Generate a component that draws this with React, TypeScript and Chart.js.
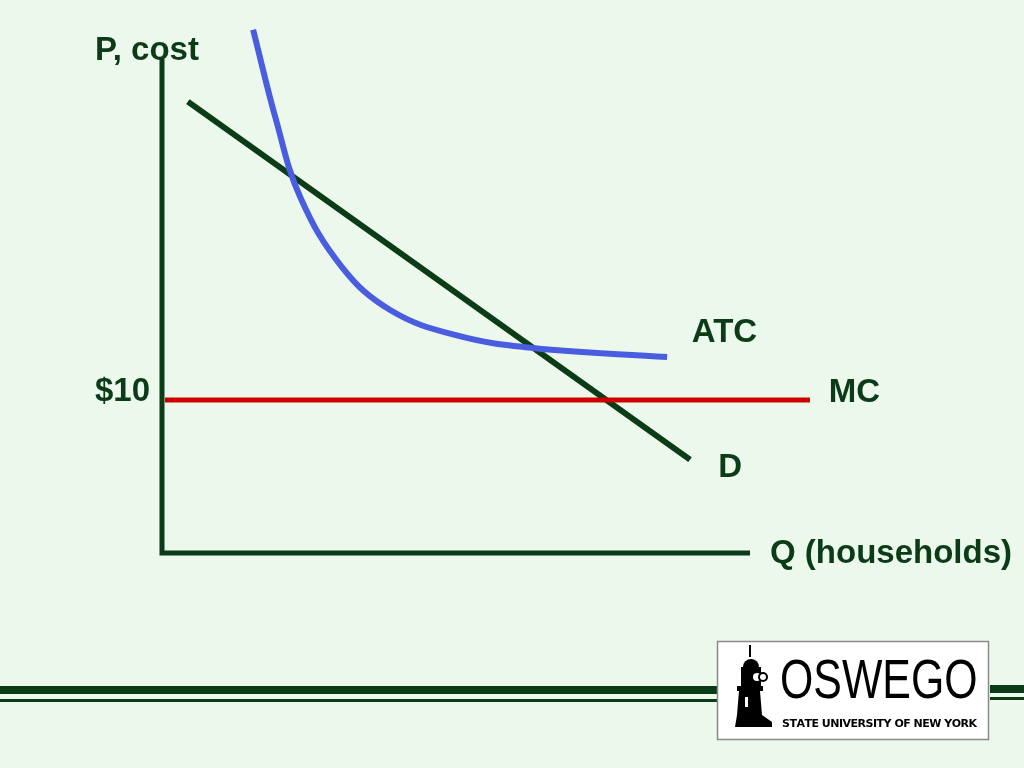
import React, { useEffect, useRef } from "react";
import { Chart, registerables } from "chart.js";

Chart.register(...registerables);

// ---- data (Q = quantity of households, P = price / cost in $) ----
const axisQ = [0, 0, 100];
const axisP = [32.4, 0, 0];

const demandQ = [4.4, 89.8];
const demandP = [29.5, 6.1];

const mcQ = [0.5, 110.2];
const mcP = [10, 10];

const atcQ = [15.5, 19.4, 23.5, 30.6, 38.8, 49.8, 63.1, 85.9];
const atcP = [34.2, 28.3, 23.27, 18.69, 15.88, 14.25, 13.4, 12.81];

const labelTexts = ["P, cost", "$10", "ATC", "MC", "D", "Q (households)"];
const labelQ = [-11.4, -11.4, 90.1, 113.4, 94.6, 103.4];
const labelP = [32.2, 9.95, 13.8, 9.85, 4.97, -0.65];

const BG = "#EBF8EB";
const DARK = "#0B3B17";
const BLUE = "#4A5DE0";
const RED = "#CC0000";

const zip = (xs: number[], ys: number[]) => xs.map((x, i) => ({ x, y: ys[i] }));

const decorPlugin = {
  id: "decor",
  beforeDraw(chart: any) {
    const ctx = chart.ctx;
    ctx.save();
    ctx.fillStyle = BG;
    ctx.fillRect(0, 0, chart.width, chart.height);
    ctx.restore();
  },
  afterDraw(chart: any) {
    const ctx = chart.ctx;
    const xs = chart.scales.x;
    const ys = chart.scales.y;
    ctx.save();
    // labels
    ctx.fillStyle = DARK;
    ctx.font = "bold 33px 'Liberation Sans', Arial, sans-serif";
    ctx.textAlign = "left";
    ctx.textBaseline = "alphabetic";
    labelTexts.forEach((t, i) => {
      ctx.fillText(t, xs.getPixelForValue(labelQ[i]), ys.getPixelForValue(labelP[i]));
    });

    // footer double lines
    ctx.fillStyle = DARK;
    ctx.fillRect(0, 686, 718, 8);
    ctx.fillRect(0, 699, 718, 3);
    ctx.fillRect(990, 685, 34, 8);
    ctx.fillRect(990, 697, 34, 3);

    // logo box
    ctx.fillStyle = "#FFFFFF";
    ctx.fillRect(717, 641, 272, 99);
    ctx.strokeStyle = "#8A8A8A";
    ctx.lineWidth = 1.5;
    ctx.strokeRect(717.5, 641.5, 271, 98);

    // tower silhouette
    ctx.fillStyle = "#000";
    ctx.fillRect(749, 645, 2, 12);
    ctx.beginPath();
    ctx.arc(751, 667, 8, Math.PI, 0);
    ctx.fill();
    ctx.fillRect(741, 667, 20, 20);
    ctx.fillRect(737, 686, 26, 5);
    ctx.beginPath();
    ctx.moveTo(739, 691);
    ctx.lineTo(760, 691);
    ctx.lineTo(762, 715);
    ctx.lineTo(772, 722);
    ctx.lineTo(772, 727);
    ctx.lineTo(735, 727);
    ctx.lineTo(737, 715);
    ctx.closePath();
    ctx.fill();
    ctx.fillStyle = "#FFF";
    ctx.beginPath();
    ctx.arc(757, 677, 4, 0, Math.PI * 2);
    ctx.fill();
    ctx.fillRect(745, 697, 3, 10);
    ctx.fillStyle = "#000";
    ctx.beginPath();
    ctx.arc(763, 677, 5, 0, Math.PI * 2);
    ctx.fill();
    ctx.fillStyle = "#FFF";
    ctx.beginPath();
    ctx.arc(763, 677, 3, 0, Math.PI * 2);
    ctx.fill();

    // OSWEGO wordmark
    ctx.fillStyle = "#000";
    ctx.save();
    ctx.translate(780, 698);
    ctx.scale(0.765, 1);
    ctx.font = "56px 'Liberation Sans', Arial, sans-serif";
    ctx.fillText("OSWEGO", 0, 0);
    ctx.restore();
    ctx.font = "bold 11px 'DejaVu Sans', sans-serif";
    const sub = "STATE UNIVERSITY OF NEW YORK";
    const w = ctx.measureText(sub).width;
    const target = 193;
    const spacing = (target - w) / (sub.length - 1);
    let cx = 782;
    for (const ch of sub) {
      ctx.fillText(ch, cx, 727);
      cx += ctx.measureText(ch).width + spacing;
    }
    ctx.restore();
  },
};

export default function App() {
  const ref = useRef<HTMLCanvasElement | null>(null);
  useEffect(() => {
    const prevMargin = document.body.style.margin;
    document.body.style.margin = "0";
    const chart = new Chart(ref.current as HTMLCanvasElement, {
      type: "line",
      data: {
        datasets: [
          {
            label: "MC",
            data: zip(mcQ, mcP),
            borderColor: RED,
            borderWidth: 5,
            pointRadius: 0,
            borderCapStyle: "butt",
            order: 0,
          },
          {
            label: "D",
            data: zip(demandQ, demandP),
            borderColor: DARK,
            borderWidth: 6,
            pointRadius: 0,
            borderCapStyle: "butt",
            order: 2,
          },
          {
            label: "ATC",
            data: zip(atcQ, atcP),
            borderColor: BLUE,
            borderWidth: 6,
            pointRadius: 0,
            tension: 0.4,
            borderCapStyle: "butt",
            order: 1,
          },
          {
            label: "axes",
            data: zip(axisQ, axisP),
            borderColor: DARK,
            borderWidth: 5,
            pointRadius: 0,
            borderJoinStyle: "miter",
            borderCapStyle: "butt",
            order: 3,
          },
        ],
      },
      options: {
        animation: false,
        responsive: false,
        maintainAspectRatio: false,
        layout: { padding: 0 },
        plugins: { legend: { display: false }, tooltip: { enabled: false } },
        scales: {
          x: { type: "linear", min: -27.55, max: 146.6, display: false },
          y: { type: "linear", min: -14.05, max: 36.14, display: false },
        },
      },
      plugins: [decorPlugin],
    } as any);
    return () => {
      chart.destroy();
      document.body.style.margin = prevMargin;
    };
  }, []);
  return (
    <div style={{ position: "absolute", left: 0, top: 0, width: 1024, height: 768 }}>
      <canvas ref={ref} width={1024} height={768} style={{ display: "block" }} />
    </div>
  );
}
